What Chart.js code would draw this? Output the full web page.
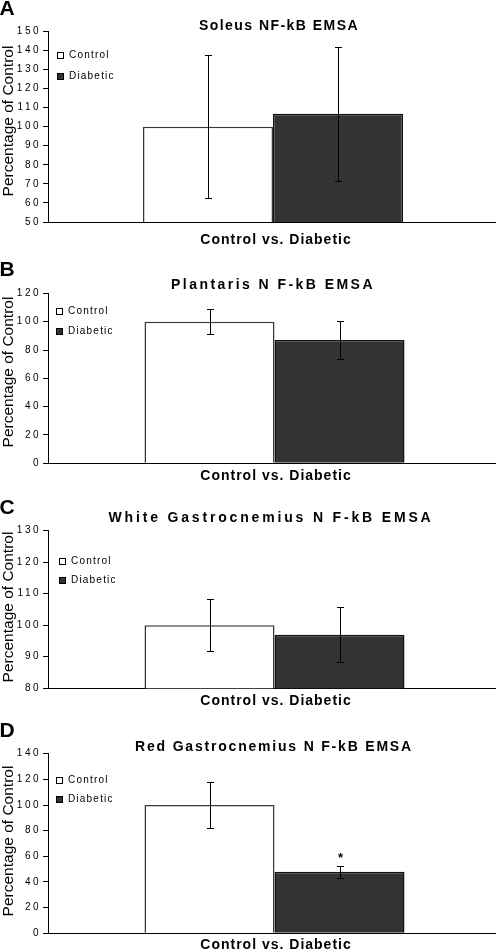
<!DOCTYPE html>
<html>
<head>
<meta charset="utf-8">
<script src="https://cdn.jsdelivr.net/npm/chart.js@4.4.1/dist/chart.umd.min.js"></script>
<style>
html, body { margin: 0; padding: 0; background: #fff; overflow: hidden; }
#page { position: relative; width: 496px; height: 950px; overflow: hidden; font-family: "Liberation Sans", Arial, sans-serif; color: #000; }
#page canvas { position: absolute; left: 0; top: 0; }
.txt { position: absolute; line-height: 1; white-space: pre; }
.letter { font-size: 21px; font-weight: bold; transform: translateY(-50%); }
.title { font-size: 14px; font-weight: bold; transform: translate(-50%, -50%); }
.xlab { font-size: 14px; font-weight: bold; letter-spacing: 1px; transform: translate(-50%, -50%); }
.ytitle { font-size: 15.5px; transform: translate(-50%, -50%) rotate(-90deg); }
.leg { position: absolute; display: flex; align-items: center; font-size: 10px; letter-spacing: 1.2px; line-height: 1; transform: translateY(-50%); }
.leg i { display: inline-block; width: 5px; height: 5px; border: 1px solid #000; margin-right: 5px; }
</style>
</head>
<body>
<div id="page"></div>
<script>
// data
const groups = ['Control', 'Diabetic'];
const category = ['Control vs. Diabetic'];
const panelLetters = ['A', 'B', 'C', 'D'];
const panelTitles = [
	'Soleus NF-kB EMSA',
	'Plantaris N F-kB EMSA',
	'White Gastrocnemius N F-kB EMSA',
	'Red Gastrocnemius N F-kB EMSA',
];
const yAxisTitle = 'Percentage of Control';

const soleusMean = [100, 106.7];
const soleusErr = [37.5, 35];
const plantarisMean = [100, 87];
const plantarisErr = [8.8, 13.3];
const whiteGastMean = [100, 97];
const whiteGastErr = [8.3, 8.7];
const redGastMean = [100, 48];
const redGastErr = [18, 4.7];
const redGastMarks = ['', '*'];

const yMin = [50, 0, 80, 0];
const yMax = [150, 120, 130, 140];
const yStep = [10, 20, 10, 20];

const means = [soleusMean, plantarisMean, whiteGastMean, redGastMean];
const errs = [soleusErr, plantarisErr, whiteGastErr, redGastErr];
const marks = [null, null, null, redGastMarks];

// layout (pixels in the 496x950 page)
const layout = [
	{ top: 31.3, bottom: 222, right: 498, letterY: 6.5, titleX: 279, titleY: 25, titleLs: 1.45, legX: 57, legY: [55, 76], xLabY: 238.5, yTitleY: 121 },
	{ top: 293.4, bottom: 463.3, right: 501, letterY: 268, titleX: 273, titleY: 284, titleLs: 2.45, legX: 56, legY: [311, 331], xLabY: 474.5, yTitleY: 372 },
	{ top: 530.5, bottom: 688.3, right: 501, letterY: 506, titleX: 271, titleY: 517, titleLs: 2.83, legX: 59, legY: [561, 580], xLabY: 700, yTitleY: 607 },
	{ top: 753.7, bottom: 933.3, right: 501, letterY: 729, titleX: 274, titleY: 746, titleLs: 1.8, legX: 56, legY: [780, 799], xLabY: 944, yTitleY: 841 },
];
const fills = ['#ffffff', '#333333'];
const borders = ['#3a3a3a', '#111111'];
const FONT = '"Liberation Sans", Arial, sans-serif';
const CANVAS_W = 510;
const CANVAS_H = 950;
const BAR_W = 130;

const errorBars = {
	id: 'errorBars',
	beforeDraw(chart) {
		chart.ctx.letterSpacing = '2.5px';
	},
	afterDatasetsDraw(chart, args, opts) {
		const ctx = chart.ctx;
		const y = chart.scales.y;
		ctx.save();
		ctx.strokeStyle = '#000';
		ctx.lineWidth = 1;
		chart.data.datasets.forEach((ds, j) => {
			const bar = chart.getDatasetMeta(j).data[0];
			const m = ds.data[0];
			const e = opts.errors[j];
			const x = Math.round(bar.x) + 0.5;
			const yt = Math.round(y.getPixelForValue(m + e)) + 0.5;
			const yb = Math.round(y.getPixelForValue(m - e)) + 0.5;
			ctx.beginPath();
			ctx.moveTo(x, yt);
			ctx.lineTo(x, yb);
			ctx.moveTo(x - 3.5, yt);
			ctx.lineTo(x + 3.5, yt);
			ctx.moveTo(x - 3.5, yb);
			ctx.lineTo(x + 3.5, yb);
			ctx.stroke();
			if (opts.marks && opts.marks[j]) {
				ctx.letterSpacing = '0px';
				ctx.fillStyle = '#000';
				ctx.font = 'bold 13px ' + FONT;
				ctx.textAlign = 'center';
				ctx.textBaseline = 'middle';
				ctx.fillText(opts.marks[j], x, yt - 8);
			}
		});
		ctx.restore();
	},
};

const page = document.getElementById('page');

function addText(cls, text, x, y, extra) {
	const d = document.createElement('div');
	d.className = 'txt ' + cls;
	d.textContent = text;
	d.style.left = x + 'px';
	d.style.top = y + 'px';
	if (extra) Object.assign(d.style, extra);
	page.appendChild(d);
	return d;
}

// charts first
layout.forEach((L, i) => {
	const canvas = document.createElement('canvas');
	canvas.width = CANVAS_W;
	canvas.height = CANVAS_H;
	page.appendChild(canvas);

	const areaW = L.right - 48;
	new Chart(canvas, {
		type: 'bar',
		data: {
			labels: category,
			datasets: groups.map((g, j) => ({
				label: g,
				data: [means[i][j]],
				backgroundColor: fills[j],
				borderColor: borders[j],
				borderWidth: 1.5,
				categoryPercentage: (2 * BAR_W) / areaW,
				barPercentage: 1,
			})),
		},
		options: {
			responsive: false,
			animation: false,
			devicePixelRatio: 1,
			layout: {
				padding: { top: L.top, bottom: CANVAS_H - L.bottom, left: 0, right: CANVAS_W - L.right },
			},
			plugins: {
				legend: { display: false },
				tooltip: { enabled: false },
				title: { display: false },
				errorBars: { errors: errs[i], marks: marks[i] },
			},
			scales: {
				x: {
					ticks: { display: false },
					grid: { display: false },
					border: { color: '#000', width: 1 },
					afterFit(scale) { scale.height = 0; },
				},
				y: {
					min: yMin[i],
					max: yMax[i],
					ticks: { stepSize: yStep[i], color: '#000', padding: 2, font: { size: 10, family: FONT } },
					grid: { drawOnChartArea: false, tickLength: 5, color: '#000' },
					border: { color: '#000', width: 1 },
					afterFit(scale) { scale.width = 48; },
				},
			},
		},
		plugins: [errorBars],
	});
});

// text on top
layout.forEach((L, i) => {
	addText('letter', panelLetters[i], -0.5, L.letterY);
	addText('title', panelTitles[i], L.titleX, L.titleY, { letterSpacing: L.titleLs + 'px' });
	addText('xlab', category[0], 276, L.xLabY);
	addText('ytitle', yAxisTitle, 8, L.yTitleY);

	groups.forEach((g, j) => {
		const item = document.createElement('div');
		item.className = 'leg';
		item.style.left = L.legX + 'px';
		item.style.top = L.legY[j] + 'px';
		const box = document.createElement('i');
		box.style.background = fills[j];
		item.appendChild(box);
		item.appendChild(document.createTextNode(g));
		page.appendChild(item);
	});
});
</script>
</body>
</html>
